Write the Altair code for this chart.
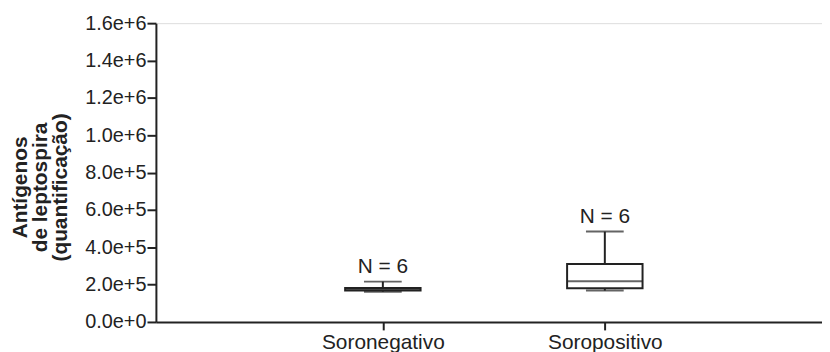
import altair as alt
import pandas as pd

groups = ["Soronegativo", "Soropositivo"]
positions = [1, 2]
mins = [162000, 168000]
q1s = [168000, 181000]
medians = [174000, 218000]
q3s = [182000, 310000]
maxs = [216000, 484000]
n_labels = ["N = 6", "N = 6"]

y_ticks = [0, 200000, 400000, 600000, 800000, 1000000, 1200000, 1400000, 1600000]
y_title = ["Antígenos", "de leptospira", "(quantificação)"]

df = pd.DataFrame({
    "group": groups, "pos": positions, "min": mins, "q1": q1s,
    "median": medians, "q3": q3s, "max": maxs, "n": n_labels,
})

INK = "#222222"
FONT = "Liberation Sans"

label_expr = " : ".join(
    [f"datum.value == {p} ? '{g}'" for p, g in zip(positions, groups)]
) + " : ''"

x_axis = alt.Axis(
    values=positions, labelExpr=label_expr, title=None, grid=False,
    domainColor=INK, domainWidth=2, tickColor=INK, tickWidth=2, tickSize=8,
    labelFontSize=21, labelColor=INK, labelPadding=2, labelFont=FONT,
    labelOverlap=False, labelFlush=False,
)
xscale = alt.Scale(domain=[0, 2.956], nice=False, zero=False)

y_axis = alt.Axis(
    values=y_ticks, tickCount=9, format=".1e", title=y_title, grid=False,
    domainColor=INK, domainWidth=2, tickColor=INK, tickWidth=2, tickSize=9,
    labelFontSize=20, labelColor=INK, labelPadding=1, labelFont=FONT,
    labelOverlap=False, labelFlush=False, labelBound=False,
    titleFontSize=21, titleFontWeight="bold", titleColor=INK, titleFont=FONT,
    titleLineHeight=20, titleAngle=270, titleAlign="center", titleBaseline="middle",
    titleX=-136, titleY=165,
)
yscale = alt.Scale(domain=[0, 1600000], nice=False)


def X():
    return alt.X("pos:Q", scale=xscale, axis=x_axis)


def Y(field):
    return alt.Y(f"{field}:Q", scale=yscale, axis=y_axis)


base = alt.Chart(df)

upper = base.mark_rule(color=INK, strokeWidth=2).encode(
    x=X(), y=Y("q3"), y2="max:Q")
lower = base.mark_rule(color=INK, strokeWidth=2).encode(
    x=X(), y=Y("min"), y2="q1:Q")
box = base.mark_bar(size=76, fill="white", stroke=INK, strokeWidth=2).encode(
    x=X(), y=Y("q1"), y2="q3:Q")
med = base.mark_tick(orient="horizontal", size=76, thickness=2, color=INK).encode(
    x=X(), y=Y("median"))
cap_hi = base.mark_tick(orient="horizontal", size=38, thickness=2, color=INK).encode(
    x=X(), y=Y("max"))
cap_lo = base.mark_tick(orient="horizontal", size=38, thickness=2, color=INK).encode(
    x=X(), y=Y("min"))
ntext = base.mark_text(dy=-15, fontSize=21, color=INK, font=FONT, baseline="middle").encode(
    x=X(), y=Y("max"), text="n:N")

chart = alt.layer(upper, lower, box, med, cap_hi, cap_lo, ntext).properties(
    width=671, height=301, autosize="none",
    padding={"left": 149, "top": 14, "right": 0, "bottom": 30},
).configure_view(stroke=None).configure(font=FONT)

chart.save("out.html", embed_options={"renderer": "svg", "actions": False})
